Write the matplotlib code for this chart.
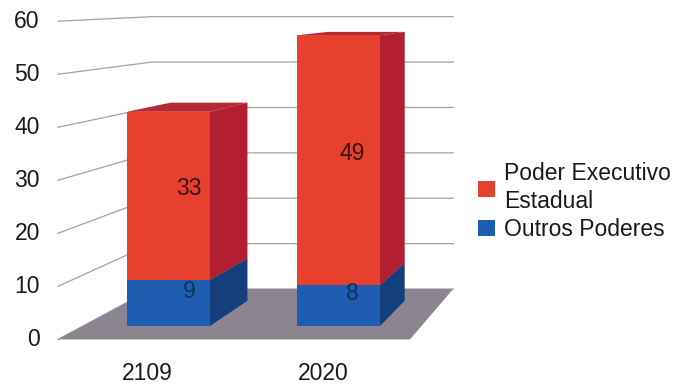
import matplotlib.pyplot as plt
from matplotlib.patches import Polygon

# dados
anos = ['2109', '2020']
outros = [9, 8]
executivo = [33, 49]
yticks = [0, 10, 20, 30, 40, 50, 60]

plt.rcParams['font.family'] = ['Liberation Sans', 'DejaVu Sans']

fig = plt.figure(figsize=(6.88, 3.85), dpi=100)
ax = fig.add_axes([0, 0, 1, 1])
ax.set_xlim(-0.991, 3.056)
ax.set_ylim(-11.57, 63.92)
ax.axis('off')

# pseudo 3D: vanishing point and depths (fraction towards it)
vp = (3.185, 65.9)
t_front, t_bar, t_back = -0.04, 0.075, 0.11
x_left, x_right = -0.503, 1.488
w = 0.488


def proj(x, v, t):
    return (x + t * (vp[0] - x), v + t * (vp[1] - v))


# floor
floor = [proj(x_left, 0, t_front), proj(x_right, 0, t_front),
         proj(x_right, 0, t_back), proj(x_left, 0, t_back)]
ax.add_patch(Polygon(floor, closed=True, fc='#8a8590', ec='none', zorder=1))

# grid on left and back walls
for v in yticks:
    p0 = proj(x_left, v, t_front)
    p1 = proj(x_left, v, t_back)
    p2 = proj(x_right, v, t_back)
    ax.plot([p0[0], p1[0], p2[0]], [p0[1], p1[1], p2[1]],
            color='#a2a2a2', lw=0.9, zorder=0.5)
    ax.annotate(str(v), p0, xytext=(-13, 0), textcoords='offset points',
                ha='right', va='center', fontsize=16.5, color='#1a1a1a')


def box(xc, v0, v1, front, side, top, z, label=None):
    x0, x1 = xc - w / 2, xc + w / 2
    ax.add_patch(Polygon([proj(x1, v0, 0), proj(x1, v0, t_bar),
                          proj(x1, v1, t_bar), proj(x1, v1, 0)],
                         closed=True, fc=side, ec='none', zorder=z))
    ax.add_patch(Polygon([proj(x0, v1, 0), proj(x0, v1, t_bar),
                          proj(x1, v1, t_bar), proj(x1, v1, 0)],
                         closed=True, fc=top, ec='none', zorder=z))
    return ax.bar(xc, v1 - v0, bottom=v0, width=w, color=front,
                  zorder=z + 0.1, label=label)


xs = list(range(len(anos)))
handles_red = handles_blue = None
for i, x in enumerate(xs):
    b = box(x, 0, outros[i], '#1f5db0', '#153f7c', '#17488c', 3)
    r = box(x, outros[i], outros[i] + executivo[i],
            '#e8402e', '#b31f30', '#b52834', 4)
    handles_blue, handles_red = b, r
    # data labels at the middle of each box
    pb = proj(x, outros[i] / 2, t_bar / 2)
    pr = proj(x, outros[i] + executivo[i] / 2, t_bar / 2)
    ax.text(pb[0], pb[1], str(outros[i]), ha='center', va='center',
            fontsize=16.5, color='#14305a', zorder=6)
    ax.text(pr[0], pr[1], str(executivo[i]), ha='center', va='center',
            fontsize=16.5, color='#3a1414', zorder=6)
    pl = proj(x, 0, t_front)
    ax.annotate(anos[i], pl, xytext=(0, -24.5), textcoords='offset points',
                ha='center', va='center', fontsize=16.5, color='#1a1a1a')

leg = fig.legend([handles_red, handles_blue],
                 ['Poder Executivo\nEstadual', 'Outros Poderes'],
                 loc='upper left', bbox_to_anchor=(478 / 688, 1 - 162 / 385),
                 frameon=False, fontsize=16.5, handlelength=0.72,
                 handleheight=0.72, handletextpad=0.4, labelspacing=0.2,
                 borderpad=0, borderaxespad=0, labelcolor='#1a1a1a')
leg.get_texts()[0].set_linespacing(1.3)

fig.savefig('out.png', dpi=100)
